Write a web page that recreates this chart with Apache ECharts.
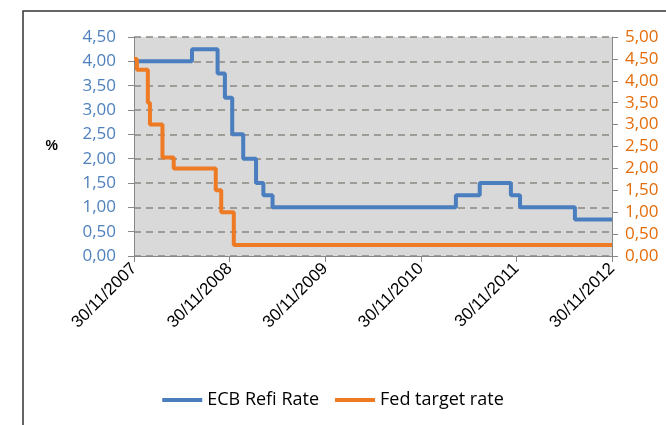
<!DOCTYPE html>
<html>
<head>
<meta charset="utf-8">
<script src="https://cdn.jsdelivr.net/npm/echarts@6/dist/echarts.min.js"></script>
<style>
  html, body { margin: 0; padding: 0; background: #fff; }
  #main { width: 666px; height: 425px; }
</style>
</head>
<body>
<div id="main"></div>
<script>
var startYear = 2007;

// ECB refi rate: date of change, new rate
var ecbDates = ['2007-11-30', '2008-07-09', '2008-10-15', '2008-11-12', '2008-12-10', '2009-01-21',
                '2009-03-11', '2009-04-08', '2009-05-13', '2011-04-13', '2011-07-13', '2011-11-09',
                '2011-12-14', '2012-07-11', '2012-11-30'];
var ecbRates = [4.00, 4.25, 3.75, 3.25, 2.50, 2.00, 1.50, 1.25, 1.00, 1.25, 1.50, 1.25, 1.00, 0.75, 0.75];

// Fed target rate
var fedDates = ['2007-11-30', '2007-12-11', '2008-01-22', '2008-01-30', '2008-03-18', '2008-04-30',
                '2008-10-08', '2008-10-29', '2008-12-16', '2012-11-30'];
var fedRates = [4.50, 4.25, 3.50, 3.00, 2.25, 2.00, 1.50, 1.00, 0.25, 0.25];

var labelColor = "#4f81bd";
var rightColor = "#e46c0a";

// years since 30/11/2007, measured anniversary to anniversary
function yearPos(s) {
  var d = new Date(s + 'T00:00:00Z').getTime();
  var k = 0;
  while (Date.UTC(startYear + k + 1, 10, 30) <= d) k++;
  var a = Date.UTC(startYear + k, 10, 30), b = Date.UTC(startYear + k + 1, 10, 30);
  return k + (d - a) / (b - a);
}

function pairs(dates, rates) {
  return dates.map(function (d, i) { return [yearPos(d), rates[i]]; });
}

function comma(v) { return v.toFixed(2).replace('.', ','); }

var myChart = echarts.init(document.getElementById('main'));
var option = {
  animation: false,
  textStyle: { fontFamily: 'Liberation Sans, Arial, sans-serif' },
  graphic: [{
    type: 'rect',
    shape: { x: 23, y: 11, width: 700, height: 500 },
    style: { fill: 'none', stroke: '#333', lineWidth: 1.5 },
    silent: true
  }],
  grid: {
    left: 134, right: 54, top: 37, bottom: 169,
    show: true, backgroundColor: '#d9d9d9', borderWidth: 0
  },
  legend: {
    top: 386,
    left: 'center',
    itemWidth: 40,
    itemHeight: 4,
    itemGap: 16,
    icon: 'rect',
    textStyle: { color: '#000', fontSize: 18, fontFamily: 'Open Sans, sans-serif' },
    data: ['ECB Refi Rate', 'Fed target rate']
  },
  xAxis: {
    type: 'value',
    min: 0, max: 5, interval: 1,
    splitLine: { show: false },
    axisLine: { lineStyle: { color: '#888', width: 1 } },
    axisTick: { show: true, length: 6, lineStyle: { color: '#888' } },
    axisLabel: {
      rotate: 45, color: '#000', fontSize: 17, margin: 10,
      formatter: function (v) { return '30/11/' + (startYear + v); }
    }
  },
  yAxis: [{
    type: 'value',
    min: 0, max: 4.5, interval: 0.5,
    name: '%',
    nameLocation: 'middle',
    nameRotate: 0,
    nameGap: 76,
    nameTextStyle: { color: '#000', fontSize: 14, fontWeight: 'bold', padding: [14, 0, 0, 0] },
    axisLine: { show: true, lineStyle: { color: '#888' } },
    axisTick: { show: true, length: 6, lineStyle: { color: '#888' } },
    axisLabel: { color: labelColor, fontSize: 17, margin: 18, fontFamily: 'Open Sans, sans-serif', formatter: comma },
    splitLine: { lineStyle: { color: '#8c8680', type: [7, 5], width: 1.5 } }
  }, {
    type: 'value',
    min: 0, max: 5, interval: 0.5,
    position: 'right',
    axisLine: { show: true, lineStyle: { color: '#888' } },
    axisTick: { show: true, length: 6, lineStyle: { color: '#888' } },
    axisLabel: { color: rightColor, fontSize: 17, margin: 13, fontFamily: 'Open Sans, sans-serif', formatter: comma },
    splitLine: { show: false }
  }],
  series: [{
    name: 'ECB Refi Rate',
    type: 'line',
    step: 'end',
    yAxisIndex: 0,
    symbol: 'none',
    color: '#4a7ebf',
    lineStyle: { width: 4 },
    data: pairs(ecbDates, ecbRates)
  }, {
    name: 'Fed target rate',
    type: 'line',
    step: 'end',
    yAxisIndex: 1,
    symbol: 'none',
    color: '#ee7a24',
    lineStyle: { width: 4 },
    data: pairs(fedDates, fedRates)
  }]
};
myChart.setOption(option);
</script>
</body>
</html>
